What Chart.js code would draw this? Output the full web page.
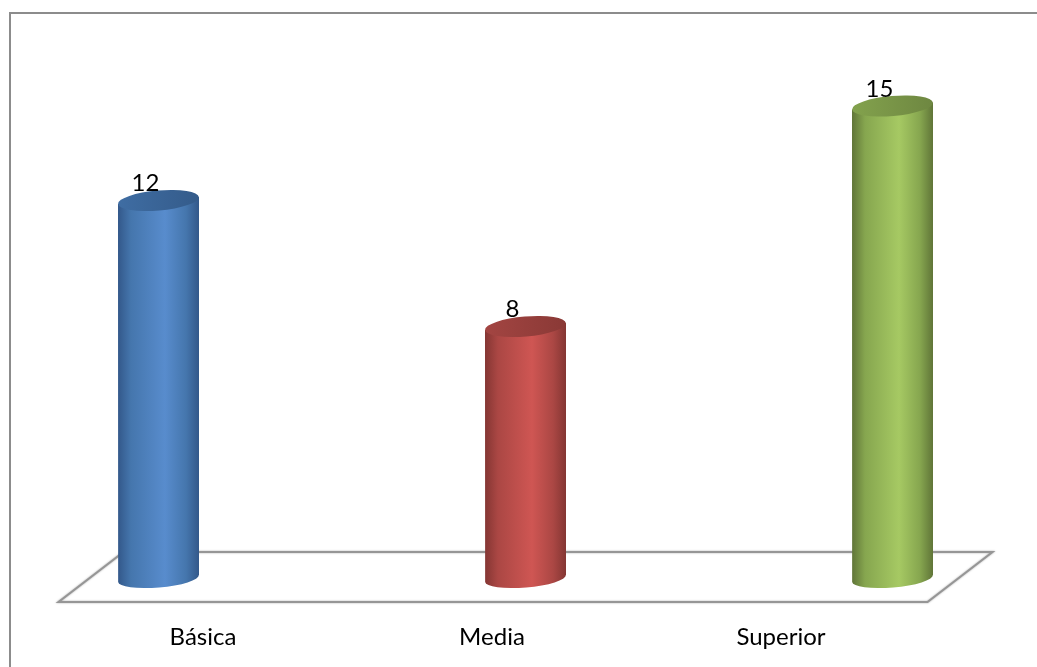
<!DOCTYPE html>
<html>
<head>
<meta charset="utf-8">
<style>
    html, body { margin: 0; padding: 0; background: #fff; overflow: hidden; }
    #wrap { position: relative; width: 1037px; height: 667px; }
</style>
<script src="https://cdn.jsdelivr.net/npm/chart.js@4/dist/chart.umd.min.js"></script>
</head>
<body>
<div id="wrap"><canvas id="chart"></canvas></div>
<script>
const categories = ['Básica', 'Media', 'Superior'];
const values = [12, 8, 15];
// edge, shoulder, centre colours of each cylinder
const sideColors = [
    ['#33588a', '#4576ad', '#588ccd'],
    ['#843633', '#ab4744', '#cf5653'],
    ['#607538', '#86a64f', '#a6c963']
];
const topColors = [
    ['#3f6da3', '#345b8a'],
    ['#a34542', '#8a3936'],
    ['#83a24d', '#6e8741']
];

const FONT = '24px Lato, Carlito, "Noto Sans", sans-serif';

// Cylinders, floor, frame and value labels
const cylinderPlugin = {
    id: 'cylinders',
    beforeDatasetsDraw(chart) {
        const { ctx, chartArea } = chart;
        const base = chartArea.bottom;
        const left = chartArea.left;
        const right = chartArea.right;

        // Outer frame
        ctx.save();
        ctx.strokeStyle = '#8c8c8c';
        ctx.lineWidth = 2;
        ctx.beginPath();
        ctx.moveTo(10, 667);
        ctx.lineTo(10, 13);
        ctx.lineTo(1037, 13);
        ctx.stroke();

        // Floor
        ctx.shadowColor = 'rgba(0,0,0,0.35)';
        ctx.shadowBlur = 2;
        ctx.strokeStyle = '#969696';
        ctx.lineWidth = 2;
        ctx.lineJoin = 'miter';
        ctx.beginPath();
        ctx.moveTo(left - 100, base + 23.5);
        ctx.lineTo(right + 35, base + 23.5);
        ctx.lineTo(right + 100, base - 26.5);
        ctx.lineTo(left - 35, base - 26.5);
        ctx.closePath();
        ctx.stroke();
        ctx.restore();
    },
    afterDatasetsDraw(chart) {
        const { ctx } = chart;
        const bars = chart.getDatasetMeta(0).data;
        bars.forEach((bar, i) => {
            const rx = bar.width / 2;
            const ry = 10;
            const tilt = -0.085;
            const x = bar.x;
            const dy = Math.sin(tilt) * rx;

            // Side of the cylinder
            const side = ctx.createLinearGradient(x - rx, 0, x + rx, 0);
            side.addColorStop(0, sideColors[i][0]);
            side.addColorStop(0.16, sideColors[i][1]);
            side.addColorStop(0.58, sideColors[i][2]);
            side.addColorStop(0.84, sideColors[i][1]);
            side.addColorStop(1, sideColors[i][0]);
            ctx.save();
            ctx.fillStyle = side;
            ctx.beginPath();
            ctx.moveTo(x - rx, bar.y - dy);
            ctx.lineTo(x + rx, bar.y + dy);
            ctx.lineTo(x + rx, bar.base + dy);
            ctx.ellipse(x, bar.base, rx, ry - 1, tilt, 0, Math.PI);
            ctx.closePath();
            ctx.fill();

            // Top cap
            const top = ctx.createLinearGradient(x - rx, 0, x + rx, 0);
            top.addColorStop(0, topColors[i][0]);
            top.addColorStop(1, topColors[i][1]);
            ctx.fillStyle = top;
            ctx.beginPath();
            ctx.ellipse(x, bar.y, rx, ry, tilt, 0, Math.PI * 2);
            ctx.fill();

            // Value label sits over the cap
            ctx.fillStyle = '#000';
            ctx.font = FONT;
            ctx.textAlign = 'center';
            ctx.textBaseline = 'middle';
            ctx.fillText(values[i], x - 13, bar.y - 17);
            ctx.restore();
        });
    }
};

new Chart(document.getElementById('chart'), {
    type: 'bar',
    data: {
        labels: categories,
        datasets: [{
            data: values,
            backgroundColor: 'rgba(0,0,0,0)',
            borderWidth: 0,
            barThickness: 81,
            xAxisID: 'x',
            yAxisID: 'y'
        }]
    },
    options: {
        responsive: true,
        maintainAspectRatio: false,
        animation: false,
        layout: { padding: { top: 74.5, left: 158.5, right: 144.5, bottom: 0 } },
        plugins: { legend: { display: false }, tooltip: { enabled: false } },
        scales: {
            x: { type: 'category', offset: false, display: false },
            // Category names are spaced tighter than the bars in the original
            names: {
                type: 'linear',
                position: 'bottom',
                offset: false,
                min: -0.154,
                max: 2.386,
                grid: { display: false },
                border: { display: false },
                afterBuildTicks: axis => {
                    axis.ticks = categories.map((c, i) => ({ value: i }));
                },
                afterFit: axis => { axis.height = 88.5; },
                ticks: {
                    autoSkip: false,
                    maxRotation: 0,
                    padding: 36,
                    color: '#000',
                    font: { family: 'Lato, Carlito, "Noto Sans", sans-serif', size: 24 },
                    callback: v => categories[v]
                }
            },
            y: { min: 0, max: 16, display: false }
        }
    },
    plugins: [cylinderPlugin]
});
</script>
</body>
</html>
